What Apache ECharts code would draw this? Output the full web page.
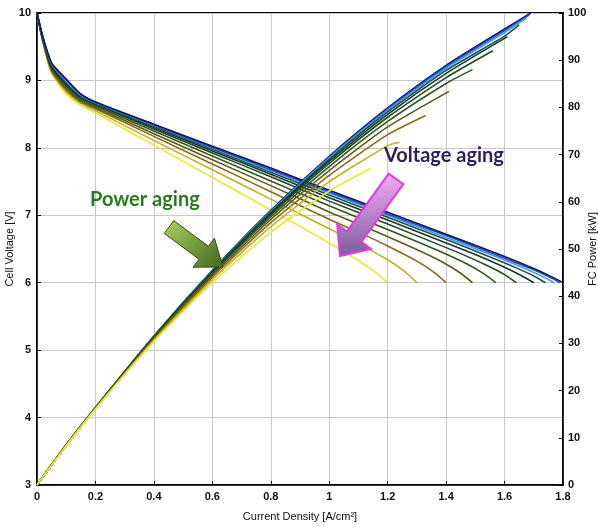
<!DOCTYPE html>
<html>
<head>
<meta charset="utf-8">
<script src="https://cdn.jsdelivr.net/npm/echarts@6/dist/echarts.min.js"></script>
<style>
  html, body { margin: 0; padding: 0; background: #fff; }
  #chart { width: 598px; height: 527px; }
</style>
</head>
<body>
<div id="chart"></div>
<script>
// shared start of every polarisation curve, current density [A/cm2]
var currentGrid = [0, 0.02, 0.05, 0.1, 0.15, 0.2, 0.4, 0.6, 0.8, 1.0]

// cell voltage [V] on currentGrid, newest stack (navy) -> most aged (yellow)
var voltageGrid = [
	[10, 9.65, 9.26, 9.02, 8.80, 8.68, 8.35, 8.025, 7.70, 7.37],
	[10, 9.64, 9.25, 9.01, 8.79, 8.675, 8.34, 8.01, 7.68, 7.35],
	[10, 9.64, 9.24, 8.99, 8.78, 8.67, 8.335, 8.00, 7.665, 7.33],
	[10, 9.63, 9.23, 8.97, 8.77, 8.66, 8.32, 7.98, 7.64, 7.30],
	[10, 9.62, 9.21, 8.95, 8.75, 8.65, 8.30, 7.955, 7.61, 7.26],
	[10, 9.61, 9.19, 8.93, 8.74, 8.64, 8.28, 7.925, 7.57, 7.21],
	[10, 9.60, 9.18, 8.91, 8.72, 8.62, 8.25, 7.88, 7.51, 7.14],
	[10, 9.59, 9.16, 8.88, 8.70, 8.60, 8.21, 7.825, 7.44, 7.05],
	[10, 9.58, 9.14, 8.86, 8.68, 8.58, 8.17, 7.76, 7.35, 6.94],
	[10, 9.57, 9.12, 8.83, 8.66, 8.55, 8.11, 7.675, 7.24, 6.80],
	[10, 9.55, 9.10, 8.80, 8.63, 8.52, 8.04, 7.56, 7.08, 6.59]
]

// high current end of each voltage curve (down to the 6 V cut-off)
var tailCurrent = [
	[1.2, 1.4, 1.6, 1.7, 1.76, 1.8],
	[1.2, 1.4, 1.59, 1.69, 1.75, 1.79],
	[1.2, 1.4, 1.57, 1.67, 1.73, 1.77],
	[1.2, 1.4, 1.54, 1.64, 1.70, 1.74],
	[1.2, 1.4, 1.5, 1.6, 1.66, 1.70],
	[1.2, 1.44, 1.54, 1.60, 1.64],
	[1.2, 1.37, 1.47, 1.53, 1.57],
	[1.1, 1.29, 1.39, 1.45, 1.49],
	[1.1, 1.2, 1.3, 1.36, 1.40],
	[1.1, 1.2, 1.26, 1.30],
	[1.1, 1.16, 1.20]
]
var tailVoltage = [
	[7.045, 6.72, 6.39, 6.21, 6.09, 6.0],
	[7.02, 6.70, 6.38, 6.21, 6.09, 6.0],
	[7.00, 6.67, 6.39, 6.21, 6.09, 6.0],
	[6.97, 6.64, 6.40, 6.22, 6.10, 6.0],
	[6.93, 6.59, 6.42, 6.23, 6.10, 6.0],
	[6.87, 6.45, 6.255, 6.12, 6.0],
	[6.79, 6.48, 6.28, 6.13, 6.0],
	[6.87, 6.51, 6.30, 6.14, 6.0],
	[6.75, 6.545, 6.32, 6.15, 6.0],
	[6.58, 6.34, 6.16, 6.0],
	[6.33, 6.15, 6.0]
]

// FC power [kW]
var powerCurrent = [0, 0.1, 0.2, 0.4, 0.6, 0.8, 1.0, 1.2, 1.4, 1.6]
var powerGrid = [
	[0, 8.52, 16.41, 31.56, 45.50, 58.21, 69.65, 79.89, 88.90, 96.62],
	[0, 8.51, 16.40, 31.53, 45.42, 58.06, 69.46, 79.65, 88.61, 96.30],
	[0, 8.50, 16.39, 31.51, 45.36, 57.95, 69.27, 79.40, 88.30, 95.86],
	[0, 8.48, 16.37, 31.45, 45.25, 57.76, 68.99, 79.04, 87.85, 95.10],
	[0, 8.46, 16.35, 31.37, 45.10, 57.53, 68.61, 78.54, 87.21],
	[0, 8.44, 16.33, 31.30, 44.93, 57.23, 68.13, 77.91, 86.30],
	[0, 8.42, 16.29, 31.19, 44.68, 56.78, 67.47, 77.02, 85.07],
	[0, 8.39, 16.25, 31.03, 44.37, 56.25, 66.62, 75.86],
	[0, 8.37, 16.22, 30.88, 44.00, 55.57, 65.58, 74.22],
	[0, 8.34, 16.16, 30.66, 43.52, 54.73, 64.26, 71.90],
	[0, 8.32, 16.10, 30.39, 42.87, 53.53, 62.28]
]
var powerEnd = [
	[1.69, 100], [1.685, 99.6], [1.675, 99.0], [1.65, 97.5], [1.61, 95.0], [1.56, 92],
	[1.49, 88], [1.41, 83.4], [1.33, 78.3], [1.24, 72.6], [1.14, 67]
]

var lineColors = ['#16165c', '#2a48cc', '#36a2de', '#1d4f58', '#153829', '#1f4a22',
	'#2f591c', '#5a5a16', '#8a6a16', '#c2b222', '#ebe82c']

var chart = echarts.init(document.getElementById('chart'))

var series = []
// voltage: most aged first so the fresh (navy) curves end up on top
for (var k = voltageGrid.length - 1; k >= 0; k--) {
	var vData = []
	for (var i = 0; i < currentGrid.length; i++) vData.push([currentGrid[i], voltageGrid[k][i]])
	for (var j = 0; j < tailCurrent[k].length; j++) vData.push([tailCurrent[k][j], tailVoltage[k][j]])
	series.push({
		type: 'line', yAxisIndex: 0, data: vData, showSymbol: false, symbol: 'none',
		smooth: 0.2,
		lineStyle: { color: lineColors[k], width: 1.6 }, z: 3
	})
}
// power: yellow ends up on top near the origin, like the source
for (var k = 0; k < powerGrid.length; k++) {
	var pData = []
	for (var i = 0; i < powerGrid[k].length; i++) pData.push([powerCurrent[i], powerGrid[k][i]])
	pData.push(powerEnd[k])
	series.push({
		type: 'line', yAxisIndex: 1, data: pData, showSymbol: false, symbol: 'none',
		smooth: 0.2,
		lineStyle: { color: lineColors[k], width: 1.6 }, z: 3
	})
}

var axisFont = { color: '#111', fontSize: 11, fontWeight: 'bold', fontFamily: 'Liberation Sans' }

function arrow(tail, tip, bodyW, headW, headL) {
	var dx = tip[0] - tail[0], dy = tip[1] - tail[1]
	var len = Math.sqrt(dx * dx + dy * dy)
	var ux = dx / len, uy = dy / len, nx = -uy, ny = ux
	var bx = tip[0] - ux * headL, by = tip[1] - uy * headL
	return [
		[tail[0] + nx * bodyW / 2, tail[1] + ny * bodyW / 2],
		[bx + nx * bodyW / 2, by + ny * bodyW / 2],
		[bx + nx * headW / 2, by + ny * headW / 2],
		tip,
		[bx - nx * headW / 2, by - ny * headW / 2],
		[bx - nx * bodyW / 2, by - ny * bodyW / 2],
		[tail[0] - nx * bodyW / 2, tail[1] - ny * bodyW / 2]
	]
}

var option = {
	animation: false,
	backgroundColor: '#fff',
	grid: {
		left: 37, right: 35, top: 13, bottom: 42, containLabel: false, outerBoundsMode: 'none',
		show: true, borderColor: '#000', borderWidth: 2
	},
	xAxis: {
		type: 'value', min: 0, max: 1.8, interval: 0.2,
		name: 'Current Density [A/cm²]', nameLocation: 'middle', nameGap: 26,
		nameTextStyle: { color: '#111', fontSize: 11, fontFamily: 'Liberation Sans' },
		axisLine: { lineStyle: { color: '#000', width: 1.5 } },
		axisTick: { inside: true, length: 4, lineStyle: { color: '#000' } },
		axisLabel: Object.assign({ margin: 6 }, axisFont),
		splitLine: { lineStyle: { color: '#c8c8c8', width: 1 } }
	},
	yAxis: [{
		type: 'value', min: 3, max: 10, interval: 1,
		name: 'Cell Voltage [V]', nameLocation: 'middle', nameGap: 22, nameRotate: 90,
		nameMoveOverlap: false,
		nameTextStyle: { color: '#111', fontSize: 11, fontFamily: 'Liberation Sans' },
		axisLine: { show: true, lineStyle: { color: '#000', width: 1.5 } },
		axisTick: { show: true, inside: true, length: 4, lineStyle: { color: '#000' } },
		axisLabel: Object.assign({ margin: 6 }, axisFont),
		splitLine: { lineStyle: { color: '#c8c8c8', width: 1 } }
	}, {
		type: 'value', min: 0, max: 100, interval: 10, position: 'right',
		name: 'FC Power [kW]', nameLocation: 'middle', nameGap: 24, nameRotate: 90,
		nameMoveOverlap: false,
		nameTextStyle: { color: '#111', fontSize: 11, fontFamily: 'Liberation Sans' },
		axisLine: { show: true, lineStyle: { color: '#000', width: 1.5 } },
		axisTick: { show: true, inside: true, length: 4, lineStyle: { color: '#000' } },
		axisLabel: Object.assign({ margin: 5 }, axisFont),
		splitLine: { show: false }
	}],
	series: series,
	graphic: [
		{
			type: 'polygon', z: 100,
			shape: { points: arrow([169, 227], [223, 267], 16, 36, 24) },
			style: {
				fill: new echarts.graphic.LinearGradient(0, 0, 1, 1, [
					{ offset: 0, color: '#a8d260' }, { offset: 1, color: '#45681c' }]),
				stroke: '#33501a', lineWidth: 1
			}
		},
		{
			type: 'polygon', z: 100,
			shape: { points: arrow([396, 179], [340, 256], 18, 42, 24) },
			style: {
				fill: new echarts.graphic.LinearGradient(0, 0, 0, 1, [
					{ offset: 0, color: '#f7aaf7' }, { offset: 1, color: '#7a5c9c' }]),
				stroke: '#e03ce0', lineWidth: 2
			}
		},
		{
			type: 'text', left: 90, top: 190, z: 100,
			style: { text: 'Power aging', fill: '#2a7a22', font: 'bold 20px Lato' }
		},
		{
			type: 'text', left: 384, top: 146, z: 100,
			style: { text: 'Voltage aging', fill: '#2e1f5a', font: 'bold 20px Lato' }
		}
	]
}

chart.setOption(option, true)
</script>
</body>
</html>
